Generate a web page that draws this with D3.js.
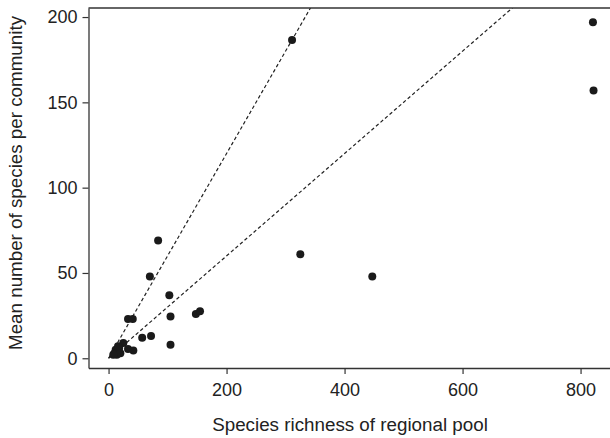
<!DOCTYPE html>
<html>
<head>
<meta charset="utf-8">
<script src="https://cdn.jsdelivr.net/npm/d3@7"></script>
<style>
  body { margin: 0; background: #fff; }
  text { font-family: "Liberation Sans", Arial, sans-serif; fill: #222; }
</style>
</head>
<body>
<div id="canvas"></div>
<script>
const w = 610;
const h = 438;

// data
const richness = [821, 822, 311, 325, 447, 84, 70, 103, 33, 41, 105, 148, 155, 57, 72, 105, 25, 33, 42, 10, 12, 15, 18, 14, 20, 8, 16];
const meanSpecies = [197, 157, 186.5, 61, 48, 69, 48, 37, 23, 23, 24.5, 26, 27.5, 12, 13, 8, 9, 5.5, 4.5, 3, 5, 4, 6, 2, 3, 2, 7];
const slopes = [0.6, 0.3];
const xTicks = [0, 200, 400, 600, 800];
const yTicks = [0, 50, 100, 150, 200];

const plotL = 88.5, plotR = 610, plotT = 8, plotB = 368;

const xScale = d3.scaleLinear().domain([-34, 850]).range([plotL, plotL + 884 * 0.59]);
const yScale = d3.scaleLinear().domain([-5.7, 205.3]).range([plotB, plotT]);

const svg = d3.select("#canvas").append("svg").attr("width", w).attr("height", h);

svg.append("clipPath").attr("id", "plotclip")
  .append("rect").attr("x", plotL).attr("y", plotT).attr("width", plotR - plotL).attr("height", plotB - plotT);

// dashed reference lines through the origin
const xMax = xScale.domain()[1];
svg.append("g").attr("clip-path", "url(#plotclip)")
  .selectAll("line")
  .data(slopes)
  .enter()
  .append("line")
  .attr("x1", xScale(0)).attr("y1", yScale(0))
  .attr("x2", xScale(xMax)).attr("y2", d => yScale(d * xMax))
  .attr("stroke", "#222").attr("stroke-width", 1.2)
  .attr("stroke-dasharray", "3.5,2.5");

// points
svg.append("g")
  .selectAll("circle")
  .data(richness)
  .enter()
  .append("circle")
  .attr("cx", d => xScale(d))
  .attr("cy", (d, i) => yScale(meanSpecies[i]))
  .attr("r", 4)
  .attr("fill", "#1a1a1a");

// axes
const xAxis = d3.axisBottom(xScale).tickValues(xTicks).tickSize(6).tickSizeOuter(0).tickPadding(9);
const gx = svg.append("g").attr("transform", "translate(0," + plotB + ")").call(xAxis);
const yAxis = d3.axisLeft(yScale).tickValues(yTicks).tickSize(6).tickSizeOuter(0).tickPadding(5);
const gy = svg.append("g").attr("transform", "translate(" + plotL + ",0)").call(yAxis);

[gx, gy].forEach(g => {
  g.attr("font-size", null).attr("font-family", null);
  g.select(".domain").attr("stroke", "#333").attr("stroke-width", 1.3);
  g.selectAll(".tick line").attr("stroke", "#333").attr("stroke-width", 1.2);
  g.selectAll(".tick text").style("font-size", "18px").attr("fill", "#222");
});

// top border
svg.append("line").attr("x1", plotL).attr("x2", plotR).attr("y1", plotT).attr("y2", plotT)
  .attr("stroke", "#333").attr("stroke-width", 1.3);

svg.append("text").text("Species richness of regional pool")
  .attr("x", 350).attr("y", 431).attr("text-anchor", "middle").style("font-size", "18.8px");

svg.append("text").text("Mean number of species per community")
  .attr("transform", "translate(22,183) rotate(-90)").attr("text-anchor", "middle").style("font-size", "18.8px");
</script>
</body>
</html>
